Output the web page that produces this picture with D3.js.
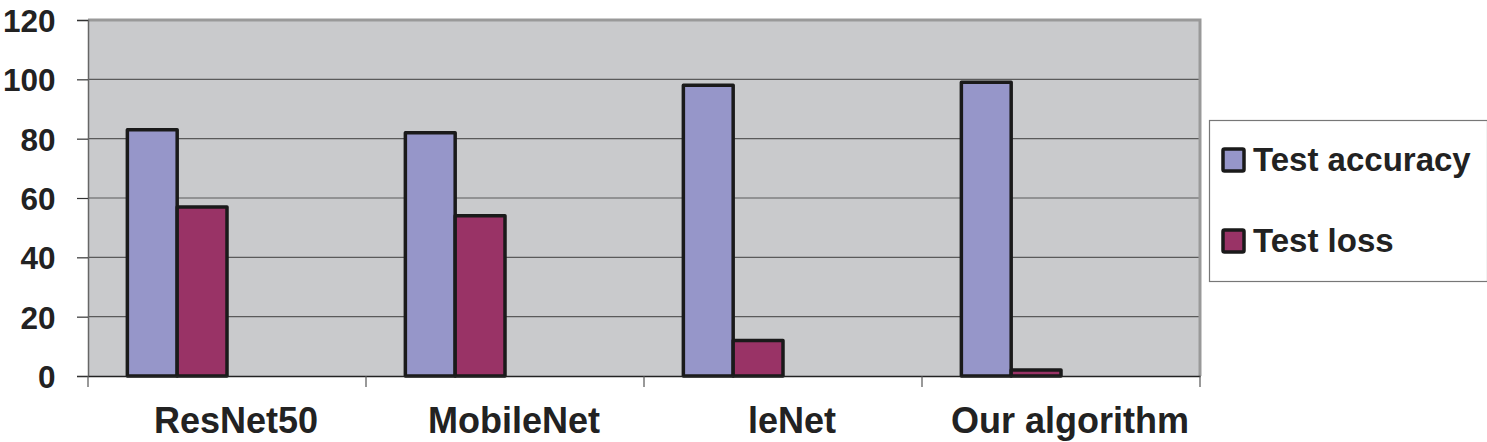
<!DOCTYPE html>
<html><head><meta charset="utf-8">
<script src="https://cdn.jsdelivr.net/npm/d3@7"></script>
<style>body{margin:0;background:#fff}svg{display:block}</style>
</head><body><svg id="c" width="1487" height="442"></svg>
<script>
const categories = ["ResNet50", "MobileNet", "leNet", "Our algorithm"];
const seriesNames = ["Test accuracy", "Test loss"];
const testAccuracy = [83, 82, 98, 99];
const testLoss = [57, 54, 12, 2];
const yTicks = [0, 20, 40, 60, 80, 100, 120];
const colors = ["#9696c9", "#993366"];

const svg = d3.select("#c");
const L = 88, R = 1200, T = 20, B = 376;
const font = "'Liberation Sans', Arial, sans-serif";

const x0 = d3.scaleBand().domain(categories).range([L, R]).padding(0);
// four slots per category (Excel-style layout), first two used by the series
const x1 = d3.scaleBand().domain([0, 1, 2, 3]).range([0, x0.bandwidth()]).paddingInner(0).paddingOuter(0.79);
const y = d3.scaleLinear().domain([0, 120]).range([B, T]);

// plot background
svg.append("rect").attr("x", L).attr("y", T).attr("width", R - L).attr("height", B - T).attr("fill", "#c9cacc");

// gridlines
svg.append("g").selectAll("line").data(yTicks.filter(d => d > 0 && d < 120)).join("line")
  .attr("x1", L).attr("x2", R).attr("y1", d => y(d)).attr("y2", d => y(d))
  .attr("stroke", "#5a5a5a").attr("stroke-width", 1.2);

// frame top/right
svg.append("path").attr("d", `M${L},${T}H${R}V${B}`).attr("fill", "none").attr("stroke", "#999").attr("stroke-width", 3);

// bars
const data = categories.map((c, i) => ({c, vals: [testAccuracy[i], testLoss[i]]}));
const g = svg.append("g").selectAll("g").data(data).join("g").attr("transform", d => `translate(${x0(d.c)},0)`);
g.selectAll("rect").data(d => d.vals.map((v, k) => ({v, k}))).join("rect")
  .attr("x", d => x1(d.k)).attr("width", x1.bandwidth())
  .attr("y", d => y(d.v)).attr("height", d => B - y(d.v))
  .attr("fill", d => colors[d.k]).attr("stroke", "#1a1a1a").attr("stroke-width", 3.5)
  .attr("stroke-linejoin", "round");

// y axis
const yAxis = svg.append("g").attr("transform", `translate(${L},0)`)
  .call(d3.axisLeft(y).tickValues(yTicks).tickSize(11).tickPadding(20));
yAxis.select(".domain").attr("stroke", "#666").attr("stroke-width", 1.5);
yAxis.selectAll(".tick line").attr("stroke", "#333").attr("stroke-width", 1.2);
yAxis.selectAll(".tick text").attr("font-family", font).attr("font-weight", "bold")
  .attr("font-size", 31.5).attr("fill", "#222").attr("dx", "-0.05em").attr("dy", "0.36em");

// x axis
const xAxis = svg.append("g").attr("transform", `translate(0,${B})`)
  .call(d3.axisBottom(x0).tickSize(0).tickFormat(""));
xAxis.select(".domain").attr("stroke", "#222").attr("stroke-width", 1.5);
svg.append("g").selectAll("line").data(categories.concat(["__end"])).join("line")
  .attr("x1", (d, i) => i < categories.length ? x0(d) : R)
  .attr("x2", (d, i) => i < categories.length ? x0(d) : R)
  .attr("y1", B).attr("y2", B + 11).attr("stroke", "#555").attr("stroke-width", 1.2);
svg.append("g").selectAll("text").data(categories).join("text")
  .attr("x", d => x0(d) + x0.bandwidth() / 2 + 9).attr("y", 433)
  .attr("text-anchor", "middle").attr("font-family", font).attr("font-weight", "bold")
  .attr("font-size", 36).attr("fill", "#222").text(d => d);

// legend
const lg = svg.append("g");
lg.append("rect").attr("x", 1209.5).attr("y", 120.5).attr("width", 278).attr("height", 161)
  .attr("fill", "#fff").attr("stroke", "#777").attr("stroke-width", 1.2);
seriesNames.forEach((s, i) => {
  const yy = 149 + i * 81;
  lg.append("rect").attr("x", 1223).attr("y", yy).attr("width", 21).attr("height", 22)
    .attr("fill", colors[i]).attr("stroke", "#1a1a1a").attr("stroke-width", 3.5).attr("rx", 1.5);
  lg.append("text").attr("x", 1253).attr("y", yy + 22).attr("font-family", font)
    .attr("font-weight", "bold").attr("font-size", 33).attr("fill", "#222").text(s);
});
</script></body></html>
